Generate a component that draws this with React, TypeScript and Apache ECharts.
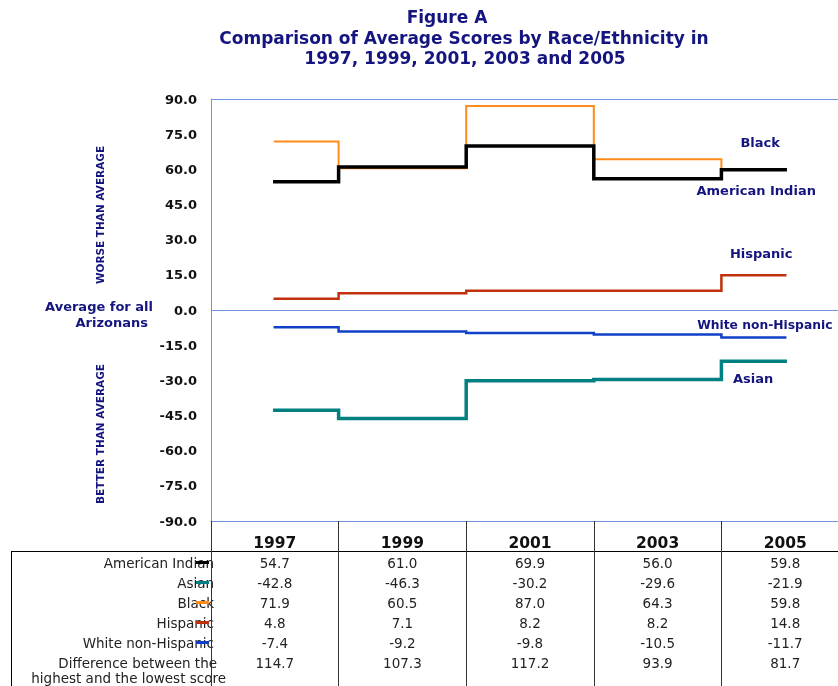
import React, { useEffect, useRef } from "react";
import * as echarts from "echarts";

const years = ["1997", "1999", "2001", "2003", "2005"];
const groups = ["American Indian", "Asian", "Black", "Hispanic", "White non-Hispanic"];
const americanIndian = [54.7, 61.0, 69.9, 56.0, 59.8];
const asian = [-42.8, -46.3, -30.2, -29.6, -21.9];
const black = [71.9, 60.5, 87.0, 64.3, 59.8];
const hispanic = [4.8, 7.1, 8.2, 8.2, 14.8];
const whiteNonHispanic = [-7.4, -9.2, -9.8, -10.5, -11.7];
const difference = [114.7, 107.3, 117.2, 93.9, 81.7];
const differenceLabel = ["Difference between the", "highest and the lowest score"];
const titleLines = ["Figure A", "Comparison of Average Scores by Race/Ethnicity in", "1997, 1999, 2001, 2003 and 2005"];

const colors = ["#000000", "#008080", "#FF8C1A", "#C0300C", "#1040C8"];
const widths = [3.5, 3.5, 2, 2.5, 2.5];
const seriesData = [americanIndian, asian, black, hispanic, whiteNonHispanic];

const NAVY = "#15157f";
const AXIS_BLUE = "#6f93dc";
const FONT = "'DejaVu Sans', Verdana, sans-serif";

export default function App() {
  const ref = useRef<HTMLDivElement>(null);
  useEffect(() => {
    if (!ref.current) return;
    const chart = echarts.init(ref.current, null, { renderer: "svg" });

    const splitColors: string[] = [];
    for (let i = 0; i < 13; i++) splitColors.push(i === 0 || i === 6 || i === 12 ? AXIS_BLUE : "rgba(0,0,0,0)");

    const staticGraphic: any[] = [
      { type: "line", shape: { x1: 11, y1: 551.5, x2: 838, y2: 551.5 }, style: { stroke: "#000", lineWidth: 1 } },
      { type: "line", shape: { x1: 11.5, y1: 551, x2: 11.5, y2: 686 }, style: { stroke: "#000", lineWidth: 1 } },
      {
        type: "text", x: 100, y: 215, rotation: Math.PI / 2,
        style: { text: "WORSE THAN AVERAGE", fill: NAVY, font: `bold 10.5px ${FONT}`, align: "center", verticalAlign: "middle" },
      },
      {
        type: "text", x: 100, y: 434, rotation: Math.PI / 2,
        style: { text: "BETTER THAN AVERAGE", fill: NAVY, font: `bold 10.5px ${FONT}`, align: "center", verticalAlign: "middle" },
      },
      { type: "text", x: 153, y: 306, style: { text: "Average for all", fill: NAVY, font: `bold 13px ${FONT}`, align: "right", verticalAlign: "middle" } },
      { type: "text", x: 148, y: 322, style: { text: "Arizonans", fill: NAVY, font: `bold 13px ${FONT}`, align: "right", verticalAlign: "middle" } },
    ];
    const titleX = [447, 464, 465];
    titleLines.forEach((t, i) => {
      staticGraphic.push({
        type: "text", x: titleX[i], y: 17 + i * 20.5,
        style: { text: t, fill: NAVY, font: `bold 17px ${FONT}`, align: "center", verticalAlign: "middle" },
      });
    });
    groups.forEach((g, i) => {
      const y = 562.5 + i * 20;
      staticGraphic.push({ type: "text", x: 214, y, style: { text: g, fill: "#222", font: `13.5px ${FONT}`, align: "right", verticalAlign: "middle" } });
      staticGraphic.push({ type: "line", z: 10, shape: { x1: 196, y1: y, x2: 209, y2: y }, style: { stroke: colors[i], lineWidth: 3 } });
    });
    staticGraphic.push({ type: "text", x: 217, y: 662.5, style: { text: differenceLabel[0], fill: "#222", font: `13.5px ${FONT}`, align: "right", verticalAlign: "middle" } });
    staticGraphic.push({ type: "text", x: 226, y: 678, style: { text: differenceLabel[1], fill: "#222", font: `13.5px ${FONT}`, align: "right", verticalAlign: "middle" } });

    const order = [2, 3, 4, 0, 1];
    const option: any = {
      animation: false,
      grid: { left: 211, top: 99, width: 638, height: 422, containLabel: false },
      xAxis: {
        type: "category",
        data: years,
        boundaryGap: true,
        axisLine: { show: true, onZero: false, lineStyle: { color: AXIS_BLUE, width: 1 } },
        axisTick: { show: true, interval: 0, length: 165, lineStyle: { color: "#333", width: 1 } },
        axisLabel: {
          interval: 0,
          margin: 12,
          formatter: (val: string, idx: number) => {
            const lines = [`{y|${val}}`];
            seriesData.forEach((arr) => lines.push(`{v|${arr[idx].toFixed(1)}}`));
            lines.push(`{v|${difference[idx].toFixed(1)}}`);
            return lines.join("\n");
          },
          rich: {
            y: { fontFamily: FONT, fontWeight: "bold", fontSize: 15.5, color: "#111", lineHeight: 20 },
            v: { fontFamily: FONT, fontSize: 13.5, color: "#222", lineHeight: 20 },
          },
        },
        splitLine: { show: false },
      },
      yAxis: {
        type: "value",
        min: -90,
        max: 90,
        interval: 15,
        axisLine: { show: true, lineStyle: { color: AXIS_BLUE, width: 1 } },
        axisTick: { show: false },
        axisLabel: {
          margin: 14,
          formatter: (v: number) => v.toFixed(1),
          fontFamily: FONT,
          fontWeight: "bold",
          fontSize: 13,
          color: "#111",
        },
        splitLine: { show: true, lineStyle: { color: splitColors, width: 1 } },
      },
      series: order.map((i, k) => ({
        name: groups[i],
        type: "line",
        step: "middle",
        symbol: "none",
        data: seriesData[i],
        z: 3 + k,
        lineStyle: { color: colors[i], width: widths[i], cap: "square", join: "miter" },
        itemStyle: { color: colors[i] },
      })),
      graphic: staticGraphic,
    };
    chart.setOption(option);

    const labelSpecs = [
      { s: 2, text: "Black", dx: -25, dy: -27, align: "center", size: 13 },
      { s: 0, text: "American Indian", dx: -29, dy: 21, align: "center", size: 13 },
      { s: 3, text: "Hispanic", dx: -24, dy: -22, align: "center", size: 13 },
      { s: 4, text: "White non-Hispanic", dx: -88, dy: -12, align: "left", size: 12.3 },
      { s: 1, text: "Asian", dx: -32, dy: 17, align: "center", size: 13 },
    ];
    const last = years.length - 1;
    const labels = labelSpecs.map((l) => {
      const p = chart.convertToPixel({ gridIndex: 0 }, [last, seriesData[l.s][last]]) as number[];
      return {
        type: "text",
        x: p[0] + l.dx,
        y: p[1] + l.dy,
        z: 20,
        style: { text: l.text, fill: NAVY, font: `bold ${l.size}px ${FONT}`, align: l.align, verticalAlign: "middle" },
      };
    });
    chart.setOption({ graphic: [...staticGraphic, ...labels] });

    return () => chart.dispose();
  }, []);
  return <div ref={ref} style={{ position: "fixed", left: 0, top: 0, width: 860, height: 686 }} />;
}
